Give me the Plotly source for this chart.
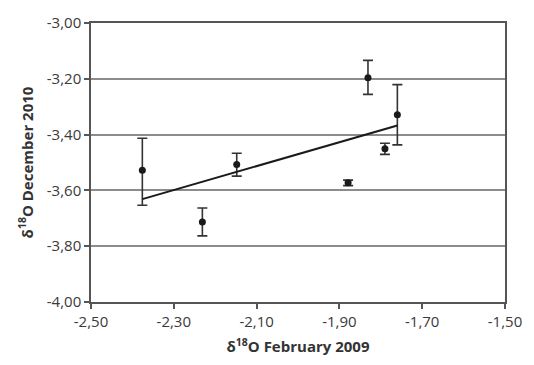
import numpy as np
import plotly.graph_objects as go

# Data
feb2009 = [-2.376, -2.231, -2.148, -1.831, -1.760, -1.790, -1.879]
dec2010 = [-3.528, -3.713, -3.507, -3.196, -3.329, -3.451, -3.573]
err_up = [0.115, 0.050, 0.040, 0.062, 0.108, 0.020, 0.010]
err_down = [0.125, 0.050, 0.042, 0.060, 0.108, 0.020, 0.010]

x_ticks = [-2.5, -2.3, -2.1, -1.9, -1.7, -1.5]
y_ticks = [-4.0, -3.8, -3.6, -3.4, -3.2, -3.0]
x_ticktext = ["-2,50", "-2,30", "-2,10", "-1,90", "-1,70", "-1,50"]
y_ticktext = ["-4,00", "-3,80", "-3,60", "-3,40", "-3,20", "-3,00"]

# Linear trend line (least squares)
slope, intercept = np.polyfit(feb2009, dec2010, 1)
xt = np.array([min(feb2009), max(feb2009)])
yt = slope * xt + intercept

fig = go.Figure()
fig.add_trace(go.Scatter(
    x=feb2009, y=dec2010, mode="markers",
    marker=dict(color="#1a1a1a", size=7),
    error_y=dict(type="data", symmetric=False, array=err_up, arrayminus=err_down,
                 color="#333333", thickness=1.6, width=5),
    showlegend=False,
))
fig.add_trace(go.Scatter(
    x=xt, y=yt, mode="lines",
    line=dict(color="#1a1a1a", width=2),
    showlegend=False,
))

axis_font = dict(family="Open Sans, Liberation Sans, sans-serif", size=15, color="#3a3a3a")
fig.update_layout(
    width=534, height=365,
    margin=dict(l=91, r=22, t=19, b=60),
    paper_bgcolor="white", plot_bgcolor="white",
    font=axis_font,
    xaxis=dict(
        range=[-2.5, -1.5], tickvals=x_ticks, ticktext=x_ticktext,
        showgrid=False, zeroline=False,
        showline=True, linecolor="#555555", linewidth=1.5, mirror=True,
        ticks="outside", ticklen=5, tickcolor="#555555", tickwidth=1.5,
        tickfont=dict(size=15),
        title=dict(text="<b>δ<sup>18</sup>O February 2009</b>", standoff=12,
                   font=dict(size=15, color="#333333")),
    ),
    yaxis=dict(
        range=[-4.0, -3.0], tickvals=y_ticks, ticktext=y_ticktext,
        showgrid=True, gridcolor="#8c8c8c", gridwidth=1.5, zeroline=False,
        showline=True, linecolor="#555555", linewidth=1.5, mirror=True,
        ticks="outside", ticklen=5, tickcolor="#555555", tickwidth=1.5,
        tickfont=dict(size=15),
        title=dict(text="<b>δ<sup>18</sup>O December 2010</b>", standoff=10,
                   font=dict(size=15, color="#333333")),
    ),
)

fig.write_html("out.html")
